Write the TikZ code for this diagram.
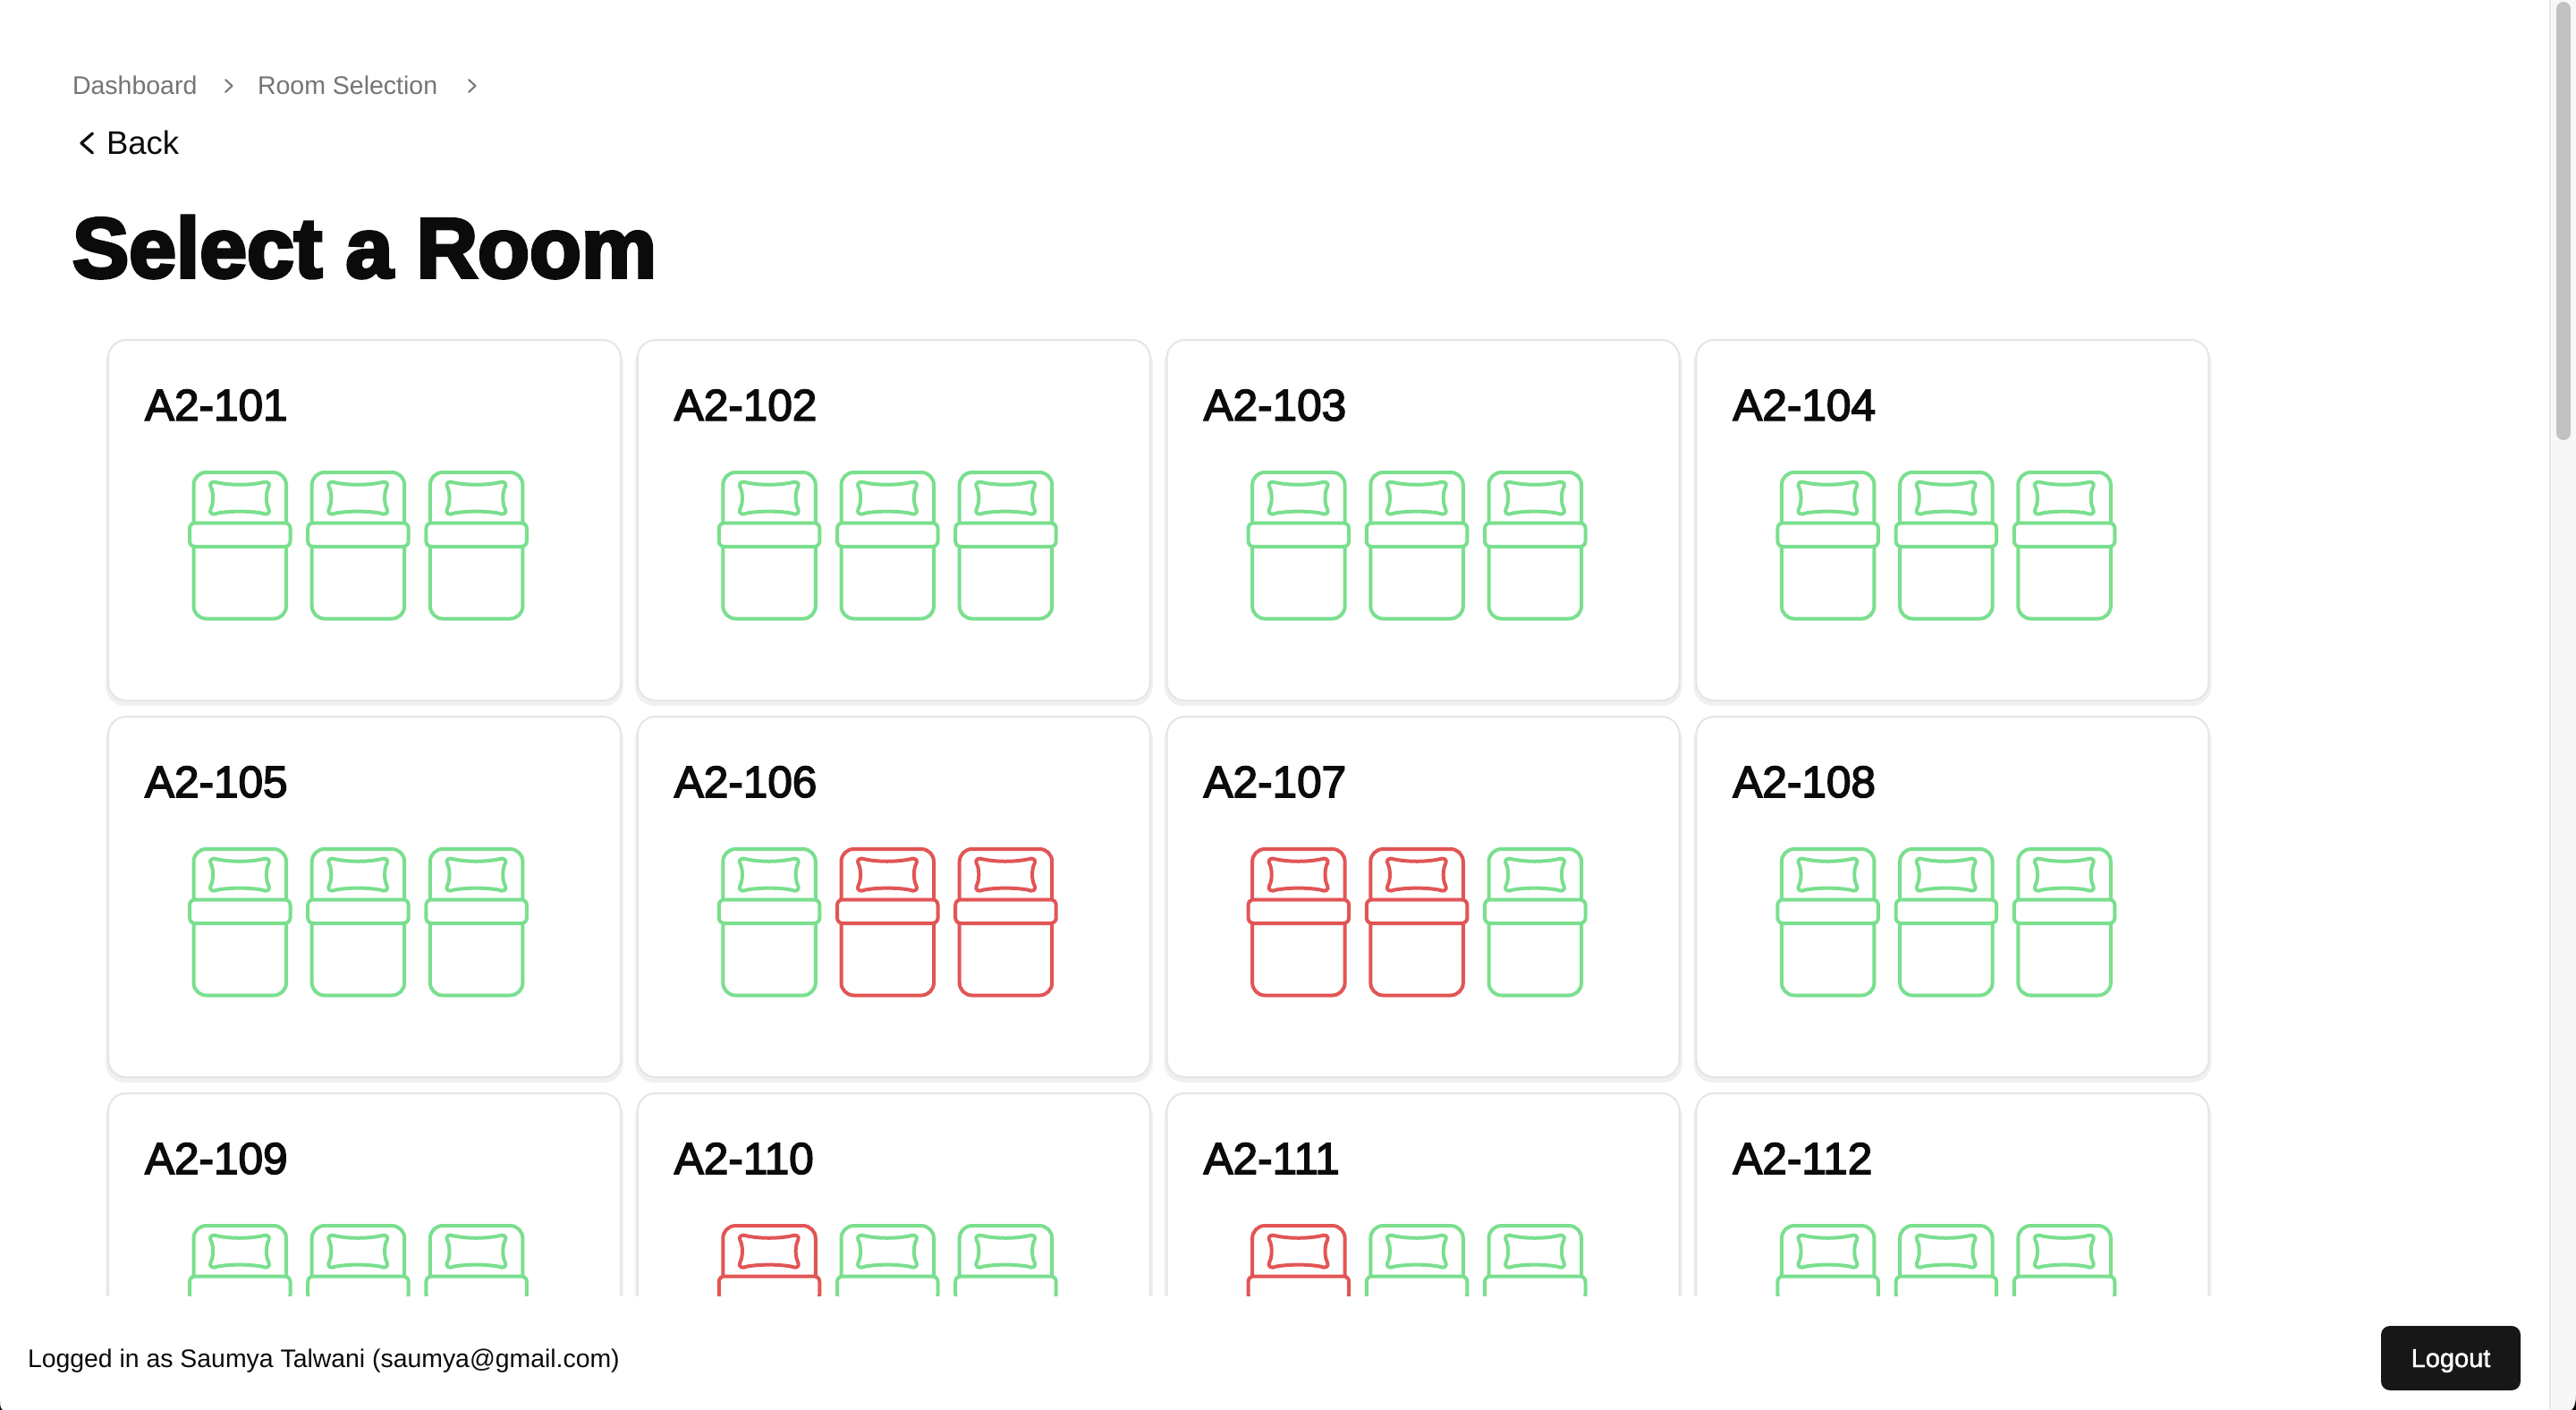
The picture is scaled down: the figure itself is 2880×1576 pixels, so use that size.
\documentclass[tikz,border=0pt]{standalone}
\usepackage{fontspec}
\setmainfont{Liberation Sans}
\newfontfamily\titlefont[UprightFont={* Bold},FakeBold=4]{Liberation Sans}
\newfontfamily\roomfont[FakeBold=3]{Liberation Sans}
\newfontfamily\btnfont[FakeBold=1.5]{Liberation Sans}
\definecolor{bedgreen}{HTML}{7ADF8E}
\definecolor{bedred}{HTML}{E25555}
\definecolor{crumbgrey}{HTML}{757575}
\definecolor{inkdark}{HTML}{0B0B0B}
\tikzset{
  label/.style={inner sep=0pt,outer sep=0pt,anchor=base west},
  bedline/.style={line width=4pt,line join=round},
  chev/.style={line width=2pt,crumbgrey,line cap=round,line join=round}
}
% one bed, origin at the top left of the frame
\newcommand{\drawbed}[3]{
  \begin{scope}[shift={(#1,#2)},bedline,draw=#3]
    \draw[rounded corners=14pt] (0,0) rectangle (103.5,163.5);
    \draw[fill=white,rounded corners=6pt] (-4.5,56.5) rectangle (108,83);
    \draw (27,11.5) .. controls (42,14.5) and (61,14.5) .. (76,11.5)
      .. controls (82,9) and (86,12) .. (84,16)
      .. controls (80.5,22) and (80.5,35) .. (84,41)
      .. controls (86,45.5) and (82,48.5) .. (76,45.5)
      .. controls (61,43) and (42,43) .. (27,45.5)
      .. controls (21,48.5) and (17,45.5) .. (19,41)
      .. controls (22.5,35) and (22.5,22) .. (19,16)
      .. controls (17,12) and (21,9) .. (27,11.5) -- cycle;
  \end{scope}
}

\begin{document}
\begin{tikzpicture}[x=1pt,y=-1pt]
    \useasboundingbox[fill=white] (0,0) rectangle (2880,1576);
    \node[label,crumbgrey,font=\fontsize{28.5}{30}\selectfont] (crumbdash) at (81,106) {Dashboard};
    \node[label,crumbgrey,font=\fontsize{28.5}{30}\selectfont] (crumbroom) at (288,106) {Room Selection};
    \draw[chev] (252,89) -- (259.5,96) -- (252,103);
    \draw[chev] (524,89) -- (531.5,96) -- (524,103);
    \draw[line width=3.2pt,line cap=round,line join=round,inkdark] (103.5,149) -- (91,160) -- (103.5,171);
    \node[label,inkdark,font=\fontsize{36.5}{38}\selectfont] (back) at (119,172) {Back};
    \node[label,inkdark,font=\titlefont\fontsize{94.8}{100}\selectfont] (title) at (81,310) {Select a Room};
    \foreach \room/\col/\row/\bedA/\bedB/\bedC in {
      101/0/0/bedgreen/bedgreen/bedgreen,102/1/0/bedgreen/bedgreen/bedgreen,
      103/2/0/bedgreen/bedgreen/bedgreen,104/3/0/bedgreen/bedgreen/bedgreen,
      105/0/1/bedgreen/bedgreen/bedgreen,106/1/1/bedgreen/bedred/bedred,
      107/2/1/bedred/bedred/bedgreen,108/3/1/bedgreen/bedgreen/bedgreen,
      109/0/2/bedgreen/bedgreen/bedgreen,110/1/2/bedred/bedgreen/bedgreen,
      111/2/2/bedred/bedgreen/bedgreen,112/3/2/bedgreen/bedgreen/bedgreen}{
      \pgfmathsetmacro{\cx}{121+591.8*\col}
      \pgfmathsetmacro{\cy}{380+421*\row}
      \fill[black!12,rounded corners=20pt] (\cx-1,\cy+4) rectangle (\cx+574,\cy+407);
      \fill[black!6,rounded corners=22pt] (\cx-3,\cy+4) rectangle (\cx+576,\cy+409);
      \draw[fill=white,draw=black!10,line width=2pt,rounded corners=20pt] (\cx,\cy) rectangle (\cx+573,\cy+403);
      \node[label,inkdark,font=\roomfont\fontsize{49.5}{52}\selectfont] (room\room) at (\cx+41,\cy+90) {A2-\room};
      \drawbed{\cx+95.5}{\cy+148}{\bedA}
      \drawbed{\cx+227.7}{\cy+148}{\bedB}
      \drawbed{\cx+359.9}{\cy+148}{\bedC}
    }
    % footer over the last row
    \fill[white] (0,1449) rectangle (2850,1576);
    \node[label,inkdark,font=\fontsize{28.4}{30}\selectfont] (loggedin) at (31,1528) {Logged in as Saumya Talwani (saumya@gmail.com)};
    \node[fill=black!91,rounded corners=10pt,inner sep=0pt,minimum width=156pt,minimum height=72pt,text=white,font=\btnfont\fontsize{29}{30}\selectfont,text depth=2pt,text height=22pt] (logout) at (2740,1518) {Logout};
    % scrollbar
    \fill[black!3] (2850,0) rectangle (2880,1576);
    \fill[black!9] (2850,0) rectangle (2852,1576);
    \fill[black!24,rounded corners=8pt] (2858,2) rectangle (2874,492);
    % window corners
    \fill[black] (0,1566) .. controls (0,1572) and (1,1575) .. (3,1576) -- (0,1576) -- cycle;
    \fill[black] (2880,1560) .. controls (2880,1568) and (2878,1574) .. (2875,1576) -- (2880,1576) -- cycle;
\end{tikzpicture}
\end{document}
